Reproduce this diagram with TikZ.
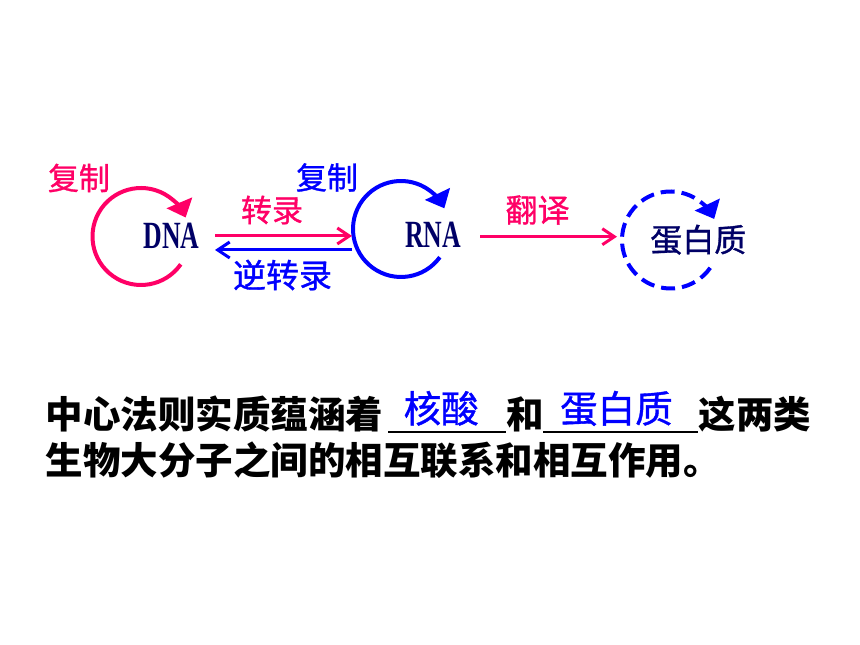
\documentclass[tikz,border=0pt]{standalone}
\usepackage{fontspec}
\setmainfont{Liberation Serif}
\newfontfamily\cjk{Noto Sans CJK SC}
\newfontface\cjkm{Noto Sans CJK SC}[FakeBold=1]
\usetikzlibrary{arrows.meta}
\definecolor{rd}{RGB}{255,0,102}
\definecolor{bl}{RGB}{0,0,255}
\definecolor{nv}{RGB}{0,0,102}
\begin{document}
\begin{tikzpicture}[x=1pt,y=1pt,
  lab/.style={inner sep=0,font=\cjkm\fontsize{31}{31}\selectfont},
  mol/.style={inner sep=0,text=nv,xscale=0.67,font=\bfseries\fontsize{38.5}{38.5}\selectfont},
  loopline/.style={line width=4pt,-{Triangle[length=16pt,width=27pt]}},
  link/.style={line width=3pt,-{Straight Barb[length=12pt,width=16pt]}},
  body/.style={inner sep=0,anchor=base west,font=\cjk\bfseries\fontsize{37.5}{37.5}\selectfont},
  ans/.style={inner sep=0,anchor=base west,text=bl,font=\cjkm\fontsize{37.5}{37.5}\selectfont},
  uline/.style={line width=2pt,black}]
\useasboundingbox (0,0) rectangle (860,645);
\fill[white] (0,0) rectangle (860,645);

% molecules
\node[mol] (dna) at (171.5,409.5) {DNA};
\node[mol] (rna) at (433,410) {RNA};
\node[inner sep=0,text=nv,font=\cjkm\fontsize{32}{32}\selectfont] (prot) at (698.3,405.3) {蛋白质};

% labels
\node[lab,text=rd] (rep1) at (79,467) {复制};
\node[lab,text=bl] (rep2) at (327,467.5) {复制};
\node[lab,text=rd] (tr) at (272,435) {转录};
\node[lab,text=bl,font=\cjkm\fontsize{33}{33}\selectfont] (rt) at (282.5,370) {逆转录};
\node[lab,text=rd,font=\cjkm\fontsize{32}{32}\selectfont] (tl) at (537.5,435) {翻译};

% replication loops
\coordinate (c1) at (141,408.5);
\coordinate (c2) at (401,416);
\coordinate (c3) at (670.5,405);
\draw[rd,loopline] (c1) ++(-35:48.5) arc[start angle=-35,end angle=-337,radius=48.5];
\draw[bl,loopline] (c2) ++(-36:48) arc[start angle=-36,end angle=-334.5,radius=48];
\draw[bl,loopline,dash pattern=on 14pt off 7pt] (c3) ++(-35:48.5) arc[start angle=-35,end angle=-334.3,radius=48.5];

% straight arrows
\coordinate (t1) at (215,409);
\coordinate (t2) at (352,409);
\coordinate (r1) at (352,395);
\coordinate (r2) at (215,395);
\coordinate (l1) at (480,408.3);
\coordinate (l2) at (617,408.3);
\draw[rd,link] (t1) -- (t2);
\draw[bl,link] (r1) -- (r2);
\draw[rd,link] (l1) -- (l2);

% sentence
\node[body] (s1) at (45.5,216.5) {中心法则实质蕴涵着};
\node[body] (s2) at (506,216.5) {和};
\node[body] (s3) at (698.5,216.5) {这两类};
\node[body] (s4) at (45.5,170.2) {生物大分子之间的相互联系和相互作用。};
\node[ans] (a1) at (403.5,222.4) {核酸};
\node[ans] (a2) at (560,222.4) {蛋白质};
\coordinate (u1) at (388,213.3);
\coordinate (u2) at (506,213.3);
\coordinate (u3) at (543,213.3);
\coordinate (u4) at (698,213.3);
\draw[uline] (u1) -- (u2);
\draw[uline] (u3) -- (u4);
\end{tikzpicture}
\end{document}
